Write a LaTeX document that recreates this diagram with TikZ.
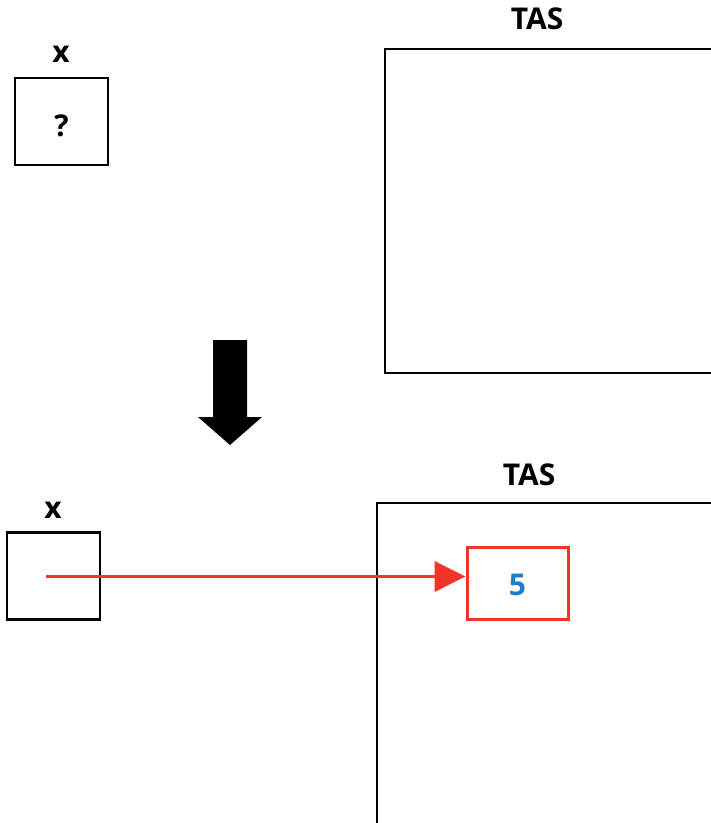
\documentclass[tikz,border=0pt]{standalone}
\usepackage{fontspec}
\setmainfont{Open Sans}
\usetikzlibrary{arrows.meta}
\definecolor{ptrred}{RGB}{240,52,40}
\definecolor{valblue}{RGB}{28,128,200}
\begin{document}
\begin{tikzpicture}[x=1pt,y=-1pt,
  lbl/.style={font=\fontsize{30}{30}\selectfont\bfseries, inner sep=0pt},
  varbox/.style={draw, line width=2.2pt, minimum width=93pt, minimum height=87pt, inner sep=0pt, font=\fontsize{30}{30}\selectfont\bfseries},
  heap/.style={draw, line width=2.2pt, anchor=north west, minimum width=400pt, minimum height=324pt, inner sep=0pt},
  cell/.style={draw=ptrred, line width=3pt, minimum width=101pt, minimum height=72pt, inner sep=0pt, text=valblue, font=\fontsize{30}{30}\selectfont\bfseries},
  ptr/.style={draw=ptrred, line width=3.8pt, -{Triangle[length=31pt,width=30pt]}}
]
\useasboundingbox (0,0) rectangle (711,823);
\clip (0,0) rectangle (711,823);

% before: variable x not yet initialised, empty heap
\node[varbox, text height=29pt, text depth=0pt] (x1) at (61.5,121.5) {?};
\node[lbl, anchor=base] (x1l) at (61,62) {x};
\node[heap, minimum height=324pt] (tas1) at (384,47.5) {};
\node[lbl, anchor=base] (tas1l) at (537,29) {TAS};

% transition arrow
\fill (213,340) -- (247,340) -- (247,417) -- (262,417) -- (230,445) -- (198,417) -- (213,417) -- cycle;

% after: x points to a heap cell holding 5
\node[varbox] (x2) at (53.5,576) {};
\node[lbl, anchor=base] (x2l) at (53,518) {x};
\node[heap, minimum height=340pt] (tas2) at (376,502) {};
\node[lbl, anchor=base] (tas2l) at (529,485) {TAS};
\node[cell, text height=25pt, text depth=0pt] (c5) at (517.5,583) {5};
\coordinate (p0) at (46,576.5);
\draw[ptr] (p0) -- (p0 -| c5.west);
\end{tikzpicture}
\end{document}
